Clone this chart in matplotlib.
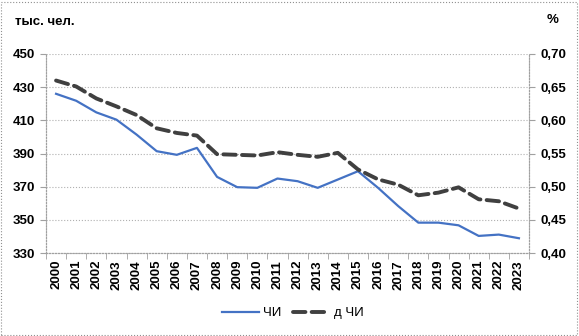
import numpy as np
import matplotlib.pyplot as plt
from matplotlib.patches import Rectangle
from matplotlib.ticker import FuncFormatter

# data
years = [str(y) for y in range(2000, 2024)]
chi = [426, 421.8, 414.8, 410.4, 401.4, 391.4, 389.2, 393.4, 375.9, 369.7,
       369.3, 374.9, 373.3, 369.3, 374.3, 379.3, 369.3, 358.3, 348.3, 348.3,
       346.7, 340.3, 341.1, 338.9]
d_chi = [0.660, 0.651, 0.633, 0.621, 0.608, 0.588, 0.581, 0.577, 0.549, 0.548,
         0.547, 0.552, 0.548, 0.545, 0.551, 0.526, 0.511, 0.503, 0.487, 0.491,
         0.499, 0.481, 0.478, 0.467]
left_ticks = [330, 350, 370, 390, 410, 430, 450]
right_ticks = [0.40, 0.45, 0.50, 0.55, 0.60, 0.65, 0.70]
left_label = "тыс. чел."
right_label = "%"

plt.rcParams['font.family'] = ['Liberation Sans', 'DejaVu Sans']

fig = plt.figure(figsize=(5.79, 3.36), dpi=100)
ax = fig.add_axes([46/579, 1-253/336, (529-46)/579, (253-54)/336])
ax2 = ax.twinx()

x = np.arange(len(years))
l1, = ax.plot(x, chi, color='#4472C4', lw=1.6, label='ЧИ')
l2, = ax2.plot(x, d_chi, color='#404040', lw=2.8, ls=(0, (3.2, 1.6)),
               dash_capstyle='round', label='д ЧИ')

ax.set_xlim(-0.5, len(years) - 0.5)
ax.set_ylim(left_ticks[0], left_ticks[-1])
ax.set_yticks(left_ticks)
ax2.set_ylim(right_ticks[0], right_ticks[-1])
ax2.set_yticks(right_ticks)
ax2.yaxis.set_major_formatter(FuncFormatter(lambda v, p: f"{v:.2f}".replace('.', ',')))

ax.grid(axis='y', color='#b0b0b0', ls=':', lw=0.8)
ax.set_axisbelow(True)

for a in (ax, ax2):
    a.spines['top'].set_visible(False)
    for s in ('left', 'right', 'bottom'):
        a.spines[s].set_color('#a0a0a0')
        a.spines[s].set_linewidth(0.8)
        a.spines[s].set_linestyle(':')

ax.set_xticks(x)
ax.set_xticklabels(years, rotation=90, fontsize=9.5, fontweight='bold')
ax.set_xticks(np.arange(-0.5, len(years)), minor=True)
ax.tick_params(axis='x', which='major', length=0, pad=5)
ax.tick_params(axis='x', which='minor', length=4, color='#a0a0a0')
ax.tick_params(axis='y', length=4, color='#a0a0a0', labelsize=9.5, pad=4)
ax2.tick_params(axis='y', length=4, color='#a0a0a0', labelsize=9.5, pad=4)
for lab in ax.get_yticklabels() + ax2.get_yticklabels():
    lab.set_fontweight('bold')

fig.text(15/579, 1-22/336, left_label, fontsize=9.5, fontweight='bold', va='center', ha='left')
fig.text(553/579, 1-20/336, right_label, fontsize=9.5, fontweight='bold', va='center', ha='center')

fig.legend(handles=[l1, l2], loc='center', bbox_to_anchor=(293/579, 1-313/336),
           ncol=2, frameon=False, fontsize=9.5, handlelength=2.8, columnspacing=0.9,
           handletextpad=0.3)

fig.patches.append(Rectangle((0.002, 0.004), 0.995, 0.99, transform=fig.transFigure,
                             fill=False, ec='#909090', lw=0.8, ls=':'))

fig.savefig('out.png', dpi=100)
